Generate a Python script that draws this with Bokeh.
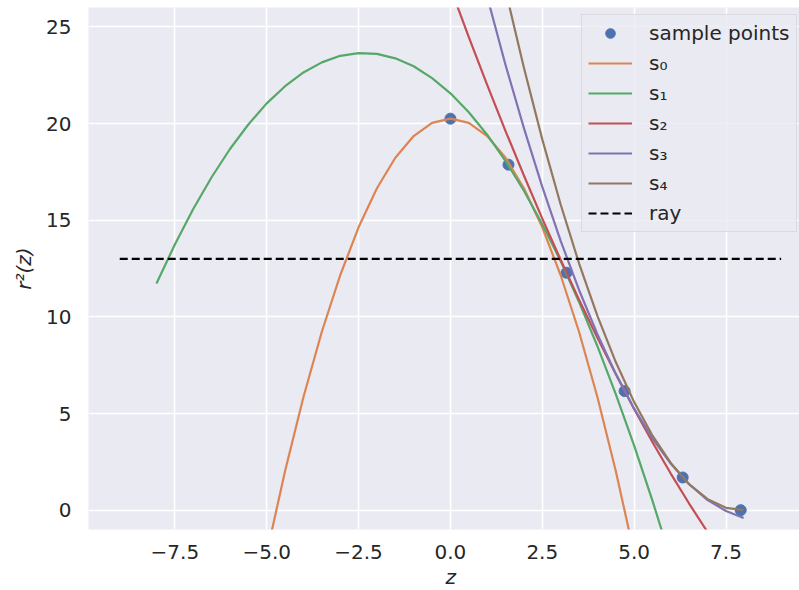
from bokeh.plotting import figure
from bokeh.models import Range1d, FixedTicker, Legend, LegendItem, Title, CustomJSTickFormatter
from bokeh.embed import file_html
from bokeh.resources import INLINE

# ---- data ----
sample_z = [0.0, 1.58, 3.16, 4.74, 6.32, 7.9]
sample_r2 = [20.25, 17.87, 12.28, 6.16, 1.69, 0.0]

s0_z = [-5.0, -4.5, -4.0, -3.5, -3.0, -2.5, -2.0, -1.5, -1.0, -0.5, 0.0,
        0.5, 1.0, 1.5, 2.0, 2.5, 3.0, 3.5, 4.0, 4.5, 5.0]
s0_r2 = [-2.25, 2.03, 5.85, 9.23, 12.15, 14.63, 16.65, 18.23, 19.35, 20.03, 20.25,
         20.03, 19.35, 18.23, 16.65, 14.63, 12.15, 9.23, 5.85, 2.03, -2.25]

s1_z = [-8.0, -7.5, -7.0, -6.5, -6.0, -5.5, -5.0, -4.5, -4.0, -3.5, -3.0, -2.5, -2.0,
        -1.5, -1.0, -0.5, 0.0, 0.5, 1.0, 1.5, 2.0, 2.5, 3.0, 3.5, 4.0, 4.5, 5.0, 5.5, 6.0]
s1_r2 = [11.72, 13.74, 15.58, 17.22, 18.68, 19.95, 21.04, 21.93, 22.64, 23.16, 23.50, 23.64, 23.60,
         23.37, 22.96, 22.35, 21.56, 20.58, 19.42, 18.06, 16.52, 14.79, 12.88, 10.77, 8.48, 6.00, 3.34, 0.48, -2.56]

s2_z = [0.0, 0.5, 1.0, 1.5, 2.0, 2.5, 3.0, 3.5, 4.0, 4.5, 5.0, 5.5, 6.0, 6.5, 7.0]
s2_r2 = [27.03, 24.47, 22.00, 19.61, 17.31, 15.08, 12.95, 10.89, 8.92, 7.04, 5.23, 3.51, 1.88, 0.33, -1.14]

s3_z = [0.5, 1.0, 1.5, 2.0, 2.5, 3.0, 3.5, 4.0, 4.5, 5.0, 5.5, 6.0, 6.5, 7.0, 7.5, 7.98]
s3_r2 = [30.33, 26.56, 23.03, 19.76, 16.72, 13.93, 11.39, 9.10, 7.05, 5.25, 3.70, 2.40, 1.34, 0.52, -0.04, -0.40]

s4_z = [1.0, 1.5, 2.0, 2.5, 3.0, 3.5, 4.0, 4.5, 5.0, 5.5, 6.0, 6.5, 7.0, 7.5, 7.98]
s4_r2 = [31.24, 26.89, 22.88, 19.18, 15.81, 12.77, 10.05, 7.66, 5.59, 3.85, 2.43, 1.33, 0.57, 0.12, 0.0]

ray_z = [-9.0, 9.0]
ray_r2 = [13.0, 13.0]

x_ticks = [-7.5, -5.0, -2.5, 0.0, 2.5, 5.0, 7.5]
y_ticks = [0, 5, 10, 15, 20, 25]

labels = ["sample points", "s₀", "s₁", "s₂", "s₃", "s₄", "ray"]
colors = ["#4C72B0", "#DD8452", "#55A868", "#C44E52", "#8172B3", "#937860", "#000000"]

FONT = "DejaVu Sans"
TXT = "#262626"

p = figure(width=799, height=590, x_range=Range1d(-9.85, 9.5), y_range=Range1d(-1, 26),
           output_backend="svg", toolbar_location=None,
           min_border_left=88, min_border_right=0, min_border_top=7, min_border_bottom=61)
p.background_fill_color = "#EAEAF2"
p.border_fill_color = "white"
p.outline_line_color = None

for ax in (p.xaxis[0], p.yaxis[0]):
    ax.axis_line_color = None
    ax.major_tick_line_color = None
    ax.minor_tick_line_color = None
    ax.major_tick_out = 0
    ax.major_tick_in = 0
    ax.minor_tick_out = 0
    ax.major_label_text_font = FONT
    ax.major_label_text_font_size = "20px"
    ax.major_label_text_color = TXT
    ax.major_label_standoff = 15
    ax.axis_label_text_font = FONT
    ax.axis_label_text_font_size = "20px"
    ax.axis_label_text_color = TXT
    ax.axis_label_text_font_style = "italic"

p.xaxis.ticker = FixedTicker(ticks=x_ticks)
p.xaxis.formatter = CustomJSTickFormatter(code="return (tick < 0 ? '\\u2212' : '') + Math.abs(tick).toFixed(1);")
p.yaxis.ticker = FixedTicker(ticks=y_ticks)
p.yaxis.major_label_standoff = 17
p.yaxis.axis_label = "r²(z)"
p.yaxis.axis_label_standoff = 7

for g in (p.xgrid[0], p.ygrid[0]):
    g.grid_line_color = "white"
    g.grid_line_width = 1.6

pts = p.scatter(sample_z, sample_r2, size=11, color=colors[0])
lw = 2.2
r0 = p.line(s0_z, s0_r2, color=colors[1], line_width=lw, line_join="round")
r1 = p.line(s1_z, s1_r2, color=colors[2], line_width=lw, line_join="round")
r2 = p.line(s2_z, s2_r2, color=colors[3], line_width=lw, line_join="round")
r3 = p.line(s3_z, s3_r2, color=colors[4], line_width=lw, line_join="round")
r4 = p.line(s4_z, s4_r2, color=colors[5], line_width=lw, line_join="round")
rr = p.line(ray_z, ray_r2, color=colors[6], line_width=lw, line_dash="8 4")

xt = Title(text="z", align="left", offset=357, standoff=2,
           text_font=FONT, text_font_size="20px", text_font_style="italic",
           text_color=TXT)
p.add_layout(xt, "below")

rends = [pts, r0, r1, r2, r3, r4, rr]
legend = Legend(items=[LegendItem(label=l, renderers=[r]) for l, r in zip(labels, rends)],
                location=(493, 297), margin=0, padding=6, spacing=6,
                glyph_width=44, glyph_height=24, label_height=24, label_standoff=17,
                label_text_font=FONT, label_text_font_size="20px", label_text_color=TXT,
                background_fill_color="#EAEAF2", background_fill_alpha=0.8,
                border_line_color="#cccccc", border_line_width=1)
p.add_layout(legend)

open("out.html", "w").write(file_html(p, INLINE))
